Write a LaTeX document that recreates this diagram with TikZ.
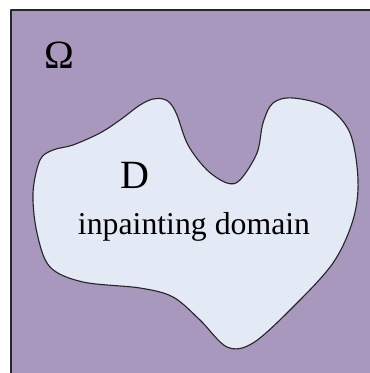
\documentclass[tikz,border=0pt]{standalone}
\usepackage{fontspec}
\setmainfont{Liberation Serif}
\definecolor{omegapurple}{RGB}{168,152,190}
\definecolor{domainblue}{RGB}{228,234,245}

\begin{document}
\begin{tikzpicture}[x=1cm,y=1cm,line cap=round,line join=round,
        biglabel/.style={inner sep=0pt,font=\fontsize{28.5}{30}\selectfont},
        smalllabel/.style={inner sep=0pt,font=\fontsize{22.6}{24}\selectfont}]
        \useasboundingbox (0,0) rectangle (9.25,9.325);
        \clip (0,0) rectangle (9.25,9.325);

        % Dominio completo Omega
        \fill[white] (0,0) rectangle (9.25,9.325);
        \filldraw[fill=omegapurple,draw=black!85,line width=1pt]
            (0.275,-0.5) rectangle (9.75,9.075);

        % Dominio a rellenar D
        \filldraw[fill=domainblue,draw=black!85,line width=0.8pt]
            plot[smooth cycle,tension=0.55] coordinates {
                (3.825,6.85) (4.075,6.85) (4.25,6.75) (4.425,6.45)
                (4.7,5.7) (5.175,5.075)
                (5.675,4.75) (6.0,4.825) (6.425,5.5) (6.575,6.25)
                (6.825,6.75) (7.325,6.875) (8.175,6.65) (8.75,6.0)
                (8.95,4.825) (8.825,3.825) (8.325,2.75) (7.325,1.65)
                (6.325,0.75) (5.675,0.65) (5.0,1.325) (4.325,1.9)
                (3.5,2.125) (2.075,2.275) (1.25,2.65) (0.925,3.5)
                (0.825,4.5) (1.0,5.325) (1.325,5.575) (1.825,5.7)
                (2.5,6.0) (3.0,6.325) (3.5,6.7)};

        % Etiquetas
        \node[biglabel] (omega) at (1.475,7.95) {Ω};
        \node[biglabel] (dlabel) at (3.375,4.95) {D};
        \node[smalllabel] (dtext) at (4.85,3.66) {inpainting domain};
    \end{tikzpicture}
\end{document}
